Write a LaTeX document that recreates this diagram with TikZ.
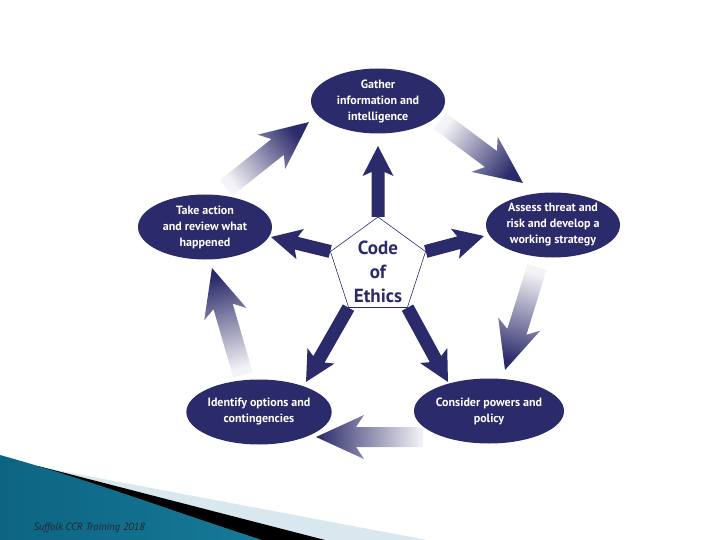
\documentclass[tikz,border=0pt]{standalone}
\usepackage{fontspec}
\setmainfont{PT Sans}
\usetikzlibrary{calc,shapes.geometric}
\definecolor{navy}{RGB}{43,42,106}
\definecolor{paleband}{RGB}{217,232,238}
\definecolor{tealdark}{RGB}{12,100,130}
\definecolor{tealmid}{RGB}{58,156,192}
\definecolor{tealright}{RGB}{22,122,152}
\newcommand{\blockarrow}[7]{%
  \path let \p1=(#2), \p2=(#3), \n1={atan2(\y2-\y1,\x2-\x1)}, \n2={veclen(\x2-\x1,\y2-\y1)} in
    \pgfextra{\xdef\arrang{\n1}\xdef\arrlen{\n2}};
  \pgfmathsetmacro{\shadang}{\arrang-90}
  \begin{scope}[shift={(#2)}, rotate=\arrang, x=1pt, y=1pt]
    \path[#1] (0,-#4) -- ({\arrlen-#6},-#4) -- ({\arrlen-#6-#7},-#5) -- (\arrlen,0)
      -- ({\arrlen-#6-#7},#5) -- ({\arrlen-#6},#4) -- (0,#4) -- cycle;
  \end{scope}}
\tikzset{
  stage/.style={ellipse, fill=navy, text=white, minimum width=134pt, minimum height=65pt,
    inner sep=0pt, align=center, font=\bfseries\fontsize{12}{16}\selectfont},
  pentshape/.style={regular polygon, regular polygon sides=5, minimum size=100pt, inner sep=0pt},
  centre/.style={pentshape, draw=navy, line width=0.6pt, fill=white},
  codetext/.style={text=navy, align=center, inner sep=0pt, font=\bfseries\fontsize{19}{24}\selectfont},
  spokefill/.style={fill=navy},
  flowfill/.style={shade, shading=axis, top color=navy, bottom color=navy!5, shading angle=\shadang},
}
\begin{document}
\begin{tikzpicture}[x=1pt,y=-1pt]
\useasboundingbox (0,0) rectangle (720,540);
% footer bands
\fill[paleband] (40,467) -- (427,540) -- (0,540) -- (0,467) -- cycle;
\fill[black] (38,466) -- (325,540) -- (0,540) -- (0,466) -- cycle;
\shade[left color=tealdark, middle color=tealmid, right color=tealright]
  (0,455) .. controls (90,480) and (175,512) .. (262,540) -- (0,540) -- cycle;
\node[anchor=base west, font=\itshape\fontsize{10.5}{12}\selectfont, text=black!85] (foot) at (30,530) {Suffolk CCR Training 2018};
% stages
\node[stage] (gather) at (378,101) {Gather\\information and\\intelligence};
\node[stage] (assess) at (553,225) {Assess threat and\\risk and develop a\\working strategy};
\node[stage] (consider) at (489,411) {Consider powers and\\policy};
\node[stage] (identify) at (259,412) {Identify options and\\contingencies};
\node[stage] (take) at (205,227) {Take action\\and review what\\happened};
% spokes
\coordinate (cc) at (378,267);
\coordinate (t1) at (378,146);
\coordinate (t2) at (271,237);
\coordinate (t3) at (306,382);
\coordinate (t4) at (448,382);
\coordinate (t5) at (484,236);
\node[pentshape] (codeghost) at (cc) {};
\foreach \k in {1,...,5} {\blockarrow{spokefill}{codeghost.corner \k}{t\k}{6.5}{15.5}{26}{4}}
\node[centre] (code) at (cc) {};
\node[codetext] (codelabel) at ($(code.center)+(0,5)$) {Code\\of\\Ethics};
% flow arrows
\coordinate (a1s) at (226,188); \coordinate (a1e) at (309,122);
\coordinate (a2s) at (440,121); \coordinate (a2e) at (523,183);
\coordinate (a3s) at (537,267); \coordinate (a3e) at (505,370);
\coordinate (a4s) at (423,437); \coordinate (a4e) at (316,437);
\coordinate (a5s) at (243,375); \coordinate (a5e) at (212,268);
\foreach \i in {1,...,5} {\blockarrow{flowfill}{a\i s}{a\i e}{10}{22}{40}{8}}
\end{tikzpicture}
\end{document}
